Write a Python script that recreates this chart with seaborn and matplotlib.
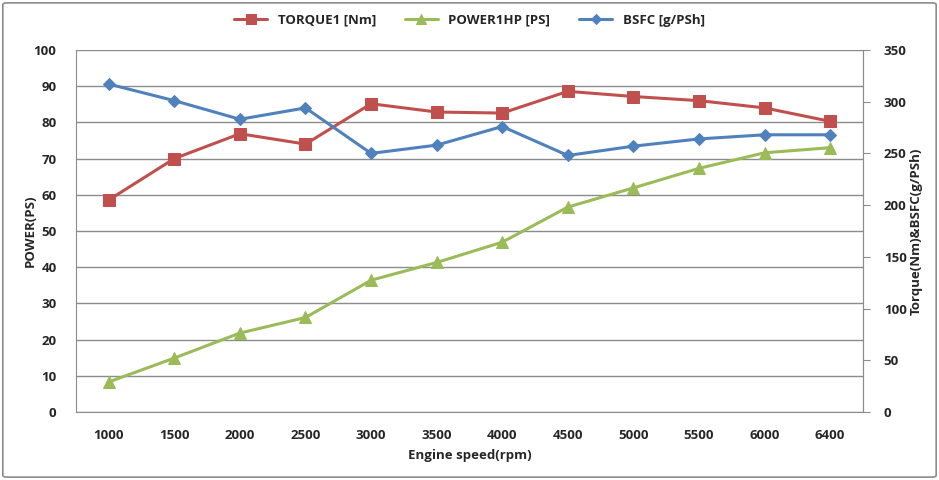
import numpy as np
import pandas as pd
import matplotlib
matplotlib.use('Agg')
import matplotlib.pyplot as plt
import seaborn as sns
from matplotlib.patches import FancyBboxPatch

# data
speeds = ['1000', '1500', '2000', '2500', '3000', '3500', '4000', '4500', '5000', '5500', '6000', '6400']
torque = [205, 245, 269, 259, 298, 290, 289, 310, 305, 301, 294, 281]       # Nm, right axis
power = [8.3, 14.9, 21.8, 26.1, 36.4, 41.3, 46.9, 56.6, 61.9, 67.3, 71.6, 73.0]  # PS, left axis
bsfc = [317, 301, 283, 294, 250, 258, 276, 248, 257, 264, 268, 268]         # g/PSh, right axis

sns.set_style('white')
plt.rcParams['font.family'] = ['Open Sans', 'DejaVu Sans']
plt.rcParams['font.weight'] = 'bold'

red = '#C0504D'
green = '#9BBB59'
blue = '#4F81BD'
grid_c = '#8C8C8C'

df = pd.DataFrame({'pos': np.arange(len(speeds)), 'torque': torque, 'power': power, 'bsfc': bsfc})

fig = plt.figure(figsize=(9.39, 4.8), dpi=100)
ax = fig.add_axes([0.0809, 0.1417, 0.8381, 0.7542])
ax2 = ax.twinx()

# outer frame
fig.patches.append(FancyBboxPatch((0.003, 0.006), 0.994, 0.988, boxstyle='round,pad=0,rounding_size=0.004',
                                  transform=fig.transFigure, fill=False, edgecolor='#8C8C8C', linewidth=1.2))

sns.lineplot(data=df, x='pos', y='power', ax=ax, color=green, marker='^', markersize=9,
             markeredgecolor=green, linewidth=2.2, sort=False, label='POWER1HP [PS]', legend=False)
sns.lineplot(data=df, x='pos', y='torque', ax=ax2, color=red, marker='s', markersize=8.5,
             markeredgecolor=red, linewidth=2.2, sort=False, label='TORQUE1 [Nm]', legend=False)
sns.lineplot(data=df, x='pos', y='bsfc', ax=ax2, color=blue, marker='D', markersize=6,
             markeredgecolor=blue, linewidth=2.2, sort=False, label='BSFC [g/PSh]', legend=False)

ax.set_xlim(-0.5, len(speeds) - 0.5)
ax.set_ylim(0, 100)
ax2.set_ylim(0, 350)
ax.set_yticks(np.arange(0, 101, 10))
ax2.set_yticks(np.arange(0, 351, 50))
ax.set_xticks(np.arange(len(speeds)))
ax.set_xticklabels(speeds)
ax.set_xticks(np.arange(-0.5, len(speeds), 1), minor=True)
ax.tick_params(axis='x', which='major', length=0, pad=12, labelsize=9.5)
ax.tick_params(axis='x', which='minor', length=5, color=grid_c, direction='out')
ax.tick_params(axis='y', length=0, labelsize=9.5, pad=14)
ax2.tick_params(axis='y', length=5, color=grid_c, direction='out', labelsize=9.5, pad=10)

ax.yaxis.grid(True, color=grid_c, linewidth=1)
ax.set_axisbelow(True)
for a in (ax, ax2):
    a.spines['top'].set_visible(False)
    for s in ('left', 'right', 'bottom'):
        a.spines[s].set_color(grid_c)
ax2.spines['left'].set_visible(False)
ax2.spines['bottom'].set_visible(False)

ax.set_xlabel('Engine speed(rpm)', fontsize=9.5, fontweight='bold', labelpad=5)
ax.set_ylabel('POWER(PS)', fontsize=9.5, fontweight='bold', labelpad=-2)
ax2.set_ylabel('Torque(Nm)&BSFC(g/PSh)', fontsize=9.5, fontweight='bold', labelpad=2)

h1, l1 = ax.get_legend_handles_labels()
h2, l2 = ax2.get_legend_handles_labels()
handles = [h2[0], h1[0], h2[1]]
labels = [l2[0], l1[0], l2[1]]
fig.legend(handles, labels, loc='center', bbox_to_anchor=(0.5, 0.958), ncol=3, frameon=False,
           fontsize=9.5, handlelength=2.5, columnspacing=2.2, markerscale=0.8)

fig.savefig('out.png', dpi=100)
